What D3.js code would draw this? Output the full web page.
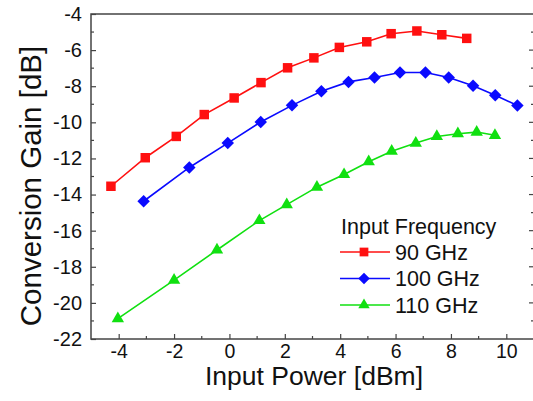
<!DOCTYPE html>
<html>
<head>
<meta charset="utf-8">
<script src="https://cdn.jsdelivr.net/npm/d3@7"></script>
<style>
  body { margin: 0; background: #fff; }
  text { font-family: "Liberation Sans", Arial, sans-serif; fill: #111; }
</style>
</head>
<body>
<div id="app"></div>
<script>
// input power [dBm] and conversion gain [dB]
const p90  = [-4.28, -3.04, -1.92, -0.91, 0.17, 1.14, 2.10, 3.05, 3.97, 4.96, 5.84, 6.77, 7.67, 8.57];
const g90  = [-13.54, -11.96, -10.78, -9.57, -8.65, -7.80, -6.98, -6.43, -5.85, -5.54, -5.09, -4.94, -5.15, -5.35];
const p100 = [-3.10, -1.45, -0.06, 1.13, 2.26, 3.32, 4.30, 5.24, 6.16, 7.08, 7.92, 8.80, 9.60, 10.40];
const g100 = [-14.37, -12.50, -11.15, -9.98, -9.06, -8.28, -7.76, -7.52, -7.24, -7.24, -7.52, -7.98, -8.50, -9.07];
const p110 = [-4.03, -2.00, -0.45, 1.08, 2.07, 3.16, 4.14, 5.03, 5.86, 6.73, 7.49, 8.25, 8.93, 9.59];
const g110 = [-20.87, -18.74, -17.07, -15.44, -14.56, -13.59, -12.89, -12.18, -11.60, -11.15, -10.78, -10.63, -10.54, -10.72];

const seriesNames = ["90 GHz", "100 GHz", "110 GHz"];
const xTicks = [-4, -2, 0, 2, 4, 6, 8, 10];
const yTicks = [-4, -6, -8, -10, -12, -14, -16, -18, -20, -22];

const width = 533, height = 401;
const plotL = 91, plotR = 534, plotT = 14, plotB = 339;

// diamond = square turned by 45 degrees
const series = [
  {name: seriesNames[0], xs: p90,  ys: g90,  color: "#ff1010", symbol: d3.symbolSquare,   size: 90, rot: 0},
  {name: seriesNames[1], xs: p100, ys: g100, color: "#0a0aff", symbol: d3.symbolSquare,   size: 78, rot: 45},
  {name: seriesNames[2], xs: p110, ys: g110, color: "#10e010", symbol: d3.symbolTriangle, size: 66, rot: 0}
];

const x = d3.scaleLinear().domain([-5, 11]).range([plotL, plotR]);
const y = d3.scaleLinear().domain([-22, -4]).range([plotB, plotT]);

const svg = d3.select("#app").append("svg")
    .attr("width", width)
    .attr("height", height);

// frame
svg.append("rect")
    .attr("x", plotL).attr("y", plotT)
    .attr("width", plotR - plotL).attr("height", plotB - plotT)
    .attr("fill", "none").attr("stroke", "#444").attr("stroke-width", 1.5);

const axisColor = "#444";
const plainNum = d => String(d);   // hyphen minus like the original

// bottom axis, inward ticks
const xAxis = svg.append("g")
    .attr("transform", `translate(0,${plotB})`)
    .call(d3.axisBottom(x).tickValues(xTicks).tickSize(-5).tickPadding(5).tickFormat(plainNum));
xAxis.select(".domain").remove();
xAxis.selectAll("line").attr("stroke", axisColor).attr("stroke-width", 1.2);
xAxis.selectAll("text").style("font-size", "19.5px").attr("font-family", null);

svg.append("g")
    .attr("transform", `translate(0,${plotB})`)
    .selectAll("line")
    .data(d3.range(-3, 11, 2))
    .join("line")
    .attr("x1", d => x(d)).attr("x2", d => x(d))
    .attr("y1", 0).attr("y2", -3)
    .attr("stroke", axisColor).attr("stroke-width", 1.2);

// left axis
const yAxis = svg.append("g")
    .attr("transform", `translate(${plotL},0)`)
    .call(d3.axisLeft(y).tickValues(yTicks).tickSize(-5).tickPadding(9).tickFormat(plainNum));
yAxis.select(".domain").remove();
yAxis.selectAll("line").attr("stroke", axisColor).attr("stroke-width", 1.2);
yAxis.selectAll("text").style("font-size", "20px").attr("font-family", null);

const yMinor = d3.range(-21, -4, 2);
svg.append("g").selectAll("line")
    .data(yMinor)
    .join("line")
    .attr("x1", plotL).attr("x2", plotL + 3)
    .attr("y1", d => y(d)).attr("y2", d => y(d))
    .attr("stroke", axisColor).attr("stroke-width", 1.2);

// right side ticks
svg.append("g").selectAll("line")
    .data(d3.range(-21, -4, 1))
    .join("line")
    .attr("x1", plotR).attr("x2", d => plotR - (d % 2 === 0 ? 5 : 3))
    .attr("y1", d => y(d)).attr("y2", d => y(d))
    .attr("stroke", axisColor).attr("stroke-width", 1.2);

// axis titles
svg.append("text")
    .attr("x", 314).attr("y", 385)
    .attr("text-anchor", "middle")
    .style("font-size", "26.5px")
    .text("Input Power [dBm]");

svg.append("text")
    .attr("transform", "translate(41,186) rotate(-90)")
    .attr("text-anchor", "middle")
    .style("font-size", "29.5px")
    .text("Conversion Gain [dB]");

// series
const line = d3.line().x(d => x(d[0])).y(d => y(d[1]));

series.forEach(s => {
  const pts = s.xs.map((v, i) => [v, s.ys[i]]);
  const g = svg.append("g");
  g.append("path")
      .datum(pts)
      .attr("d", line)
      .attr("fill", "none")
      .attr("stroke", s.color)
      .attr("stroke-width", 1.6);
  g.selectAll("path.pt")
      .data(pts)
      .join("path")
      .attr("class", "pt")
      .attr("transform", d => `translate(${x(d[0])},${y(d[1])}) rotate(${s.rot})`)
      .attr("d", d3.symbol().type(s.symbol).size(s.size))
      .attr("fill", s.color);
});

// legend
const legend = svg.append("g");
legend.append("text")
    .attr("x", 341).attr("y", 234)
    .style("font-size", "21.5px")
    .text("Input Frequency");

series.forEach((s, i) => {
  const ly = 252 + i * 26.5;
  legend.append("line")
      .attr("x1", 340).attr("x2", 390)
      .attr("y1", ly).attr("y2", ly)
      .attr("stroke", s.color).attr("stroke-width", 1.6);
  legend.append("path")
      .attr("transform", `translate(364,${ly}) rotate(${s.rot})`)
      .attr("d", d3.symbol().type(s.symbol).size(s.size * 0.85))
      .attr("fill", s.color);
  legend.append("text")
      .attr("x", 395).attr("y", ly + 7.5)
      .style("font-size", "21.5px")
      .text(s.name);
});
</script>
</body>
</html>
